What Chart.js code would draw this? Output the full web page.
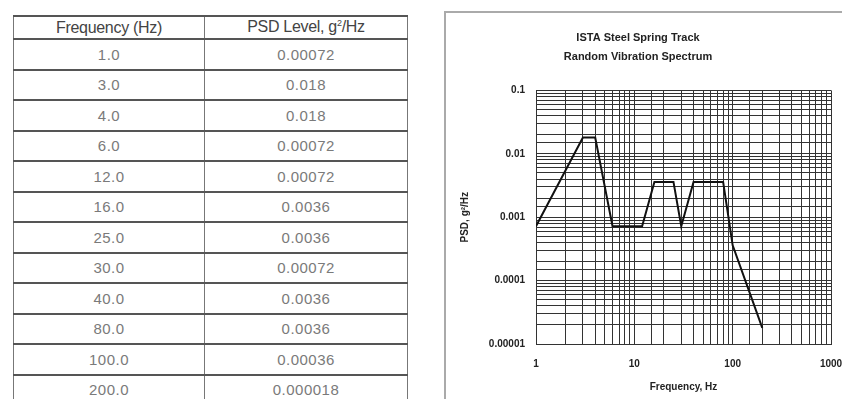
<!DOCTYPE html>
<html>
<head>
<meta charset="utf-8">
<script src="https://cdn.jsdelivr.net/npm/chart.js@4"></script>
<style>
  html, body { margin: 0; padding: 0; background: #fff; width: 842px; height: 399px; overflow: hidden; position: relative; }
  #tbl { position: absolute; left: 13px; top: 15px; width: 395px; border-collapse: collapse;
         font-family: "Liberation Sans Narrow", "Liberation Sans", Arial, sans-serif; }
  #tbl th, #tbl td { border-left: 1px solid #777; border-right: 1px solid #777; border-top: 2px solid #555; border-bottom: 2px solid #555;
         text-align: center; padding: 0; }
  #tbl th { height: 21px; font-weight: normal; color: #444; font-size: 16px; letter-spacing: -0.3px; }
  #tbl td { height: 28.5px; color: #7a7a7a; font-size: 15px; letter-spacing: 0.5px; }
  #box { position: absolute; left: 444px; top: 11px; width: 420px; height: 400px; border: 2px solid #aaa; box-sizing: border-box; }
  #wrap { position: absolute; left: 445px; top: 12px; width: 420px; height: 387px; }
</style>
</head>
<body>
<table id="tbl">
  <thead><tr><th style="width:190px">Frequency (Hz)</th><th>PSD Level, g<sup style="font-size:9px">2</sup>/Hz</th></tr></thead>
  <tbody id="tbody"></tbody>
</table>
<div id="box"></div>
<div id="wrap"><canvas id="c"></canvas></div>
<script>
// ── data ──
var freqs = [1, 3, 4, 6, 12, 16, 25, 30, 40, 80, 100, 200];
var psd   = [0.00072, 0.018, 0.018, 0.00072, 0.00072, 0.0036, 0.0036, 0.00072, 0.0036, 0.0036, 0.00036, 0.000018];
var xRange = [1, 1000];
var yRange = [0.00001, 0.1];

// ── table ──
document.getElementById("tbody").innerHTML = freqs.map(function(f, i) {
  return '<tr><td>' + f.toFixed(1) + '</td><td>' + String(psd[i]) + '</td></tr>';
}).join("");

function isDecade(v) {
  var l = Math.log10(v);
  return Math.abs(l - Math.round(l)) < 1e-9;
}

var font = { family: "Arial, 'Liberation Sans', sans-serif", size: 10, weight: "bold" };

new Chart(document.getElementById("c"), {
  type: "line",
  data: {
    datasets: [{
      data: freqs.map(function(f, i) { return { x: f, y: psd[i] }; }),
      borderColor: "#111",
      borderWidth: 2,
      pointRadius: 0,
      tension: 0
    }]
  },
  options: {
    responsive: true,
    maintainAspectRatio: false,
    animation: false,
    layout: { padding: { left: 0, right: 34, top: 0, bottom: 0 } },
    plugins: {
      legend: { display: false },
      tooltip: { enabled: false },
      title: {
        display: true,
        text: ["ISTA Steel Spring Track", "Random Vibration Spectrum"],
        color: "#222",
        font: { family: "Arial, 'Liberation Sans', sans-serif", size: 11, weight: "bold", lineHeight: 1.7 },
        padding: { top: 17, bottom: 24 }
      }
    },
    scales: {
      x: {
        type: "logarithmic",
        min: xRange[0], max: xRange[1],
        grid: { color: "#333", lineWidth: 1, drawTicks: false },
        border: { color: "#333" },
        ticks: {
          autoSkip: false, maxRotation: 0, padding: 14, color: "#222", font: font,
          callback: function(v) { return isDecade(v) ? String(v) : ""; }
        },
        title: { display: true, text: "Frequency, Hz", color: "#222", font: font, padding: { top: 0, bottom: 6 } },
        afterFit: function(s) { s.height = 55; }
      },
      y: {
        type: "logarithmic",
        min: yRange[0], max: yRange[1],
        grid: { color: "#333", lineWidth: 1, drawTicks: false },
        border: { color: "#333" },
        ticks: {
          autoSkip: false, padding: 11, color: "#222", font: font,
          callback: function(v) { return isDecade(v) ? String(v) : ""; }
        },
        title: { display: true, text: "PSD, g²/Hz", color: "#222", font: font, padding: { top: 14, bottom: 0 } },
        afterFit: function(s) { s.width = 91; }
      }
    }
  }
});
</script>
</body>
</html>
